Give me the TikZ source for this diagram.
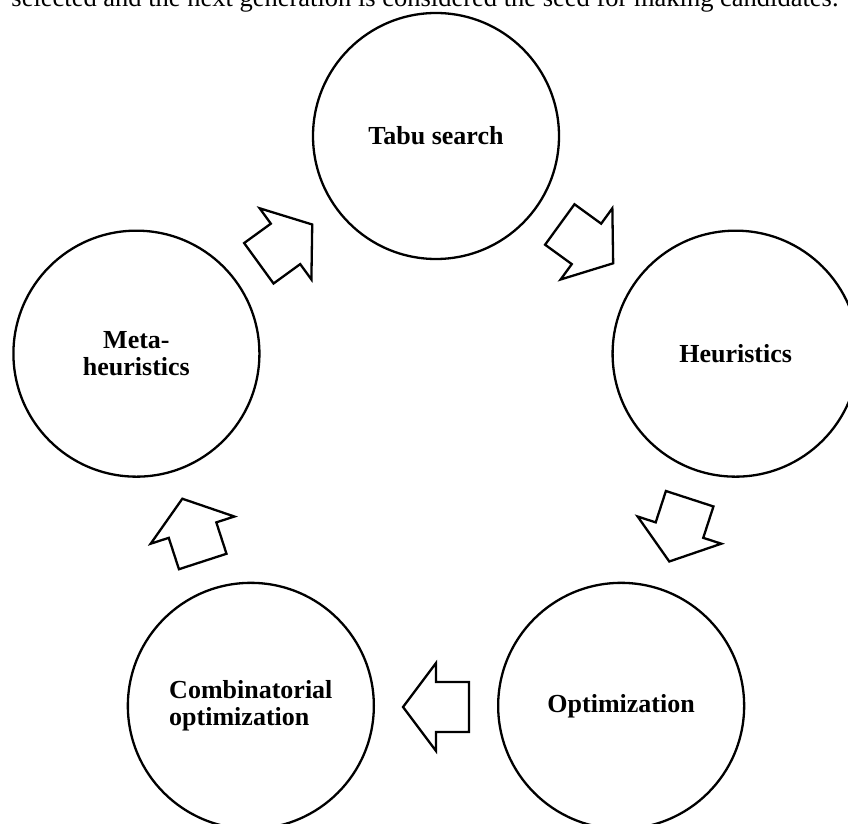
\documentclass[tikz,border=0pt]{standalone}
\usepackage{fontspec}
\setmainfont{Liberation Serif}
\usetikzlibrary{calc}
\begin{document}
\begin{tikzpicture}[x=1pt,y=1pt,
  stage/.style={circle,draw,line width=2.3pt,minimum size=246pt,inner sep=0pt,
    font=\fontsize{26}{26.5}\selectfont\bfseries,align=center},
  blockarrow/.style={draw,line width=2.3pt,line join=miter,fill=white}]
\useasboundingbox (0,0) rectangle (848,823);
\clip (0,0) rectangle (848,823);
\node[anchor=base,inner sep=0pt,font=\fontsize{26.5}{28}\selectfont] (caption) at (425,816)
  {selected and the next generation is considered the seed for making candidates.};
\coordinate (ctr) at (436,372);
\node[stage] (tabu) at ($(ctr)+(90:315)$) {Tabu search};
\node[stage] (heur) at ($(ctr)+(18:315)$) {Heuristics};
\node[stage] (opt) at ($(ctr)+(-54:315)$) {Optimization};
\node[stage,align=left] (comb) at ($(ctr)+(-126:315)$) {Combinatorial\\optimization};
\node[stage] (meta) at ($(ctr)+(162:315)$) {Meta-\\heuristics};
\foreach \a in {54,-18,-90,-162,126}{
  \begin{scope}[shift={(ctr)},rotate=\a]
    \draw[blockarrow] (231,33) -- (231,0) -- (212,0) -- (256,-33) -- (300,0) -- (281,0) -- (281,33) -- cycle;
  \end{scope}
}
\end{tikzpicture}
\end{document}
